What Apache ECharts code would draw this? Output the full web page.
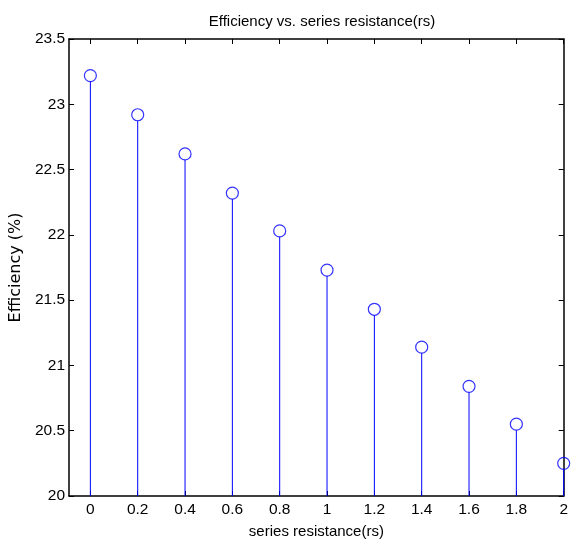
<!DOCTYPE html>
<html>
<head>
<meta charset="utf-8">
<script src="https://cdn.jsdelivr.net/npm/echarts@6/dist/echarts.min.js"></script>
<style>html,body{margin:0;padding:0;background:#fff}#c{width:571px;height:544px}</style>
</head>
<body>
<div id="c"></div>
<script>
var resistance = [0, 0.2, 0.4, 0.6, 0.8, 1.0, 1.2, 1.4, 1.6, 1.8, 2.0];
var efficiency = [23.22, 22.92, 22.62, 22.32, 22.03, 21.73, 21.43, 21.14, 20.84, 20.55, 20.25];
var xTicks = [0, 0.2, 0.4, 0.6, 0.8, 1, 1.2, 1.4, 1.6, 1.8, 2];
var yTicks = [20, 20.5, 21, 21.5, 22, 22.5, 23, 23.5];

var pts = resistance.map(function (x, i) { return [x, efficiency[i]]; });
var FONT = '"Liberation Sans", Arial, sans-serif';
var chart = echarts.init(document.getElementById('c'));
var axisLine = { show: true, onZero: false, lineStyle: { color: '#000', width: 1.5 } };
var tick = { show: true, inside: true, length: 5, lineStyle: { color: '#000', width: 1 } };
chart.setOption({
  animation: false,
  title: { text: 'Efficiency vs. series resistance(rs)', left: 317, textAlign: 'center', top: 9,
    textStyle: { fontFamily: FONT, fontSize: 15, fontWeight: 'normal', color: '#000' } },
  grid: { left: 66, right: 2, top: 39, bottom: 47 },
  xAxis: [{
    type: 'value', min: -0.09, max: 2, position: 'bottom',
    name: 'series resistance(rs)', nameLocation: 'middle', nameGap: 28,
    nameTextStyle: { fontFamily: FONT, fontSize: 15, color: '#000' },
    axisLine: axisLine, splitLine: { show: false },
    axisTick: Object.assign({ customValues: xTicks }, tick),
    axisLabel: { customValues: xTicks, fontFamily: FONT, fontSize: 15.5, color: '#000', margin: 6 }
  }, {
    type: 'value', min: -0.09, max: 2, position: 'top',
    axisLine: axisLine, splitLine: { show: false },
    axisTick: Object.assign({ customValues: xTicks }, tick),
    axisLabel: { show: false, customValues: xTicks }
  }],
  yAxis: [{
    type: 'value', min: 20, max: 23.5, interval: 0.5, position: 'left',
    name: 'Efficiency (%)', nameLocation: 'middle', nameGap: 40,
    nameTextStyle: { fontFamily: '"DejaVu Sans", sans-serif', fontSize: 16, color: '#000' },
    axisLine: axisLine, splitLine: { show: false }, axisTick: tick,
    axisLabel: { customValues: yTicks, fontFamily: FONT, fontSize: 15.5, color: '#000', margin: 4,
      formatter: function (v) { return String(+(+v).toFixed(1)); } }
  }, {
    type: 'value', min: 20, max: 23.5, interval: 0.5, position: 'right',
    axisLine: axisLine, splitLine: { show: false }, axisTick: tick,
    axisLabel: { show: false }
  }],
  series: [{
    type: 'custom',
    data: pts,
    clip: true,
    renderItem: function (params, api) {
      var top = api.coord([api.value(0), api.value(1)]);
      var base = api.coord([api.value(0), 20]);
      return { type: 'line', shape: { x1: top[0], y1: top[1] + 6, x2: base[0], y2: base[1] },
        style: { stroke: '#0000ff', lineWidth: 1 } };
    }
  }, {
    type: 'scatter',
    data: pts,
    symbol: 'circle',
    symbolSize: 12,
    clip: false,
    itemStyle: { color: 'rgba(0,0,0,0)', borderColor: '#0000ff', borderWidth: 1.2 }
  }]
});
</script>
</body>
</html>
